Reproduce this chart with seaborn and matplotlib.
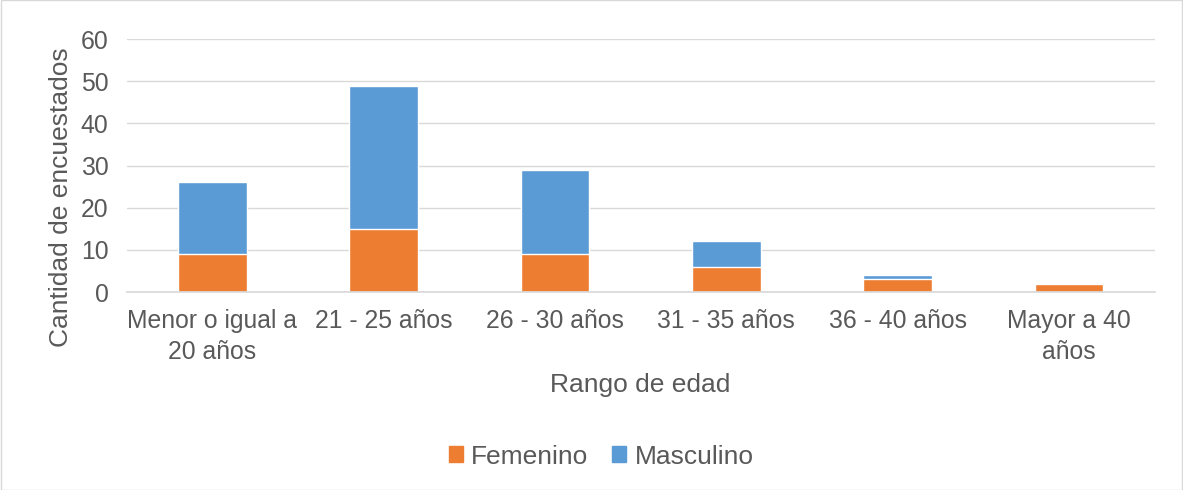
import matplotlib.pyplot as plt
import seaborn as sns
import pandas as pd
from matplotlib.patches import Patch

categorias = ["Menor o igual a\n20 años", "21 - 25 años", "26 - 30 años",
              "31 - 35 años", "36 - 40 años", "Mayor a 40\naños"]
femenino = [9, 15, 9, 6, 3, 2]
masculino = [17, 34, 20, 6, 1, 0]

naranja = "#ED7D31"
azul = "#5B9BD5"
gris = "#595959"

sns.set_theme(style="white")
plt.rcParams['font.family'] = ['Liberation Sans', 'DejaVu Sans']

df = pd.DataFrame({"cat": categorias, "fem": femenino, "masc": masculino})
df["total"] = df["fem"] + df["masc"]

fig = plt.figure(figsize=(11.83, 4.90), dpi=100)
ax = fig.add_axes([0.107, 0.404, 0.869, 0.516])

# barras apiladas: total en azul y femenino encima en naranja
sns.barplot(data=df, x="cat", y="total", color=azul, width=0.4, ax=ax, saturation=1)
sns.barplot(data=df, x="cat", y="fem", color=naranja, width=0.4, ax=ax, saturation=1)

ax.set_ylim(0, 60)
ax.set_yticks(range(0, 61, 10))
ax.yaxis.grid(True, color="#D9D9D9", linewidth=1)
ax.set_axisbelow(True)
for s in ["top", "right", "left"]:
    ax.spines[s].set_visible(False)
ax.spines["bottom"].set_color("#D9D9D9")
ax.tick_params(axis="both", length=0, labelsize=17.8, colors=gris)
ax.tick_params(axis="x", pad=12)
ax.tick_params(axis="y", pad=13)
for lbl in ax.get_xticklabels():
    lbl.set_linespacing(1.4)
ax.set_xlabel("Rango de edad", fontsize=19, color=gris, labelpad=6)
ax.set_ylabel("Cantidad de encuestados", fontsize=19, color=gris)
ax.yaxis.set_label_coords(-0.052, 0.375)

handles = [Patch(color=naranja, label="Femenino"), Patch(color=azul, label="Masculino")]
fig.legend(handles=handles, loc="center", bbox_to_anchor=(0.508, 0.068), ncol=2,
           frameon=False, fontsize=19, handlelength=0.55, handleheight=0.55,
           handletextpad=0.3, columnspacing=0.9, labelcolor=gris)

fig.patches.append(plt.Rectangle((0.001, 0.001), 0.998, 0.998, transform=fig.transFigure,
                                 fill=False, edgecolor="#D9D9D9", linewidth=1))

fig.savefig("out.png", dpi=100)
